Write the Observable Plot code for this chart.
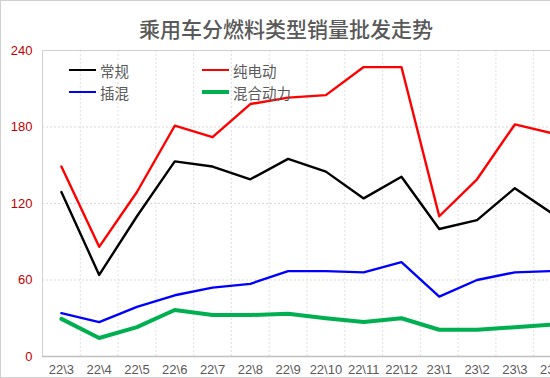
<!DOCTYPE html>
<html>
<head>
<meta charset="utf-8">
<script src="https://cdn.jsdelivr.net/npm/d3@7"></script>
<script src="https://cdn.jsdelivr.net/npm/@observablehq/plot@0.6"></script>
<style>
  html, body { margin: 0; padding: 0; background: #fff; overflow: hidden; }
  #wrap { position: relative; width: 600px; height: 376px; border: 1px solid #d0d0d0; overflow: hidden; background:#fff; }
  #title { position: absolute; left: 0; top: 13px; width: 570px; text-align: center;
    font-family: "Noto Sans CJK SC", sans-serif; font-size: 21px; font-weight: 500; color: #595959; line-height: 28px; }
  #legend { position: absolute; left: 0; top: 0; font-family: "Noto Sans CJK SC", sans-serif; font-size: 14.5px; color: #595959; }
  .item { position: absolute; display: flex; align-items: center; white-space: nowrap; height: 20px; }
  .swatch { display: inline-block; width: 27px; margin-right: 4px; }
  svg { position: absolute; left: 0; top: 0; }
</style>
</head>
<body>
<div id="wrap">
  <div id="chart"></div>
  <div id="title"></div>
  <div id="legend"></div>
</div>
<script>
const titleText = "乘用车分燃料类型销量批发走势";
const months = ["22\\3","22\\4","22\\5","22\\6","22\\7","22\\8","22\\9","22\\10","22\\11","22\\12","23\\1","23\\2","23\\3","23\\4"];
const seriesNames = ["常规", "纯电动", "插混", "混合动力"];
const conventional = [129, 64, 110, 153, 149, 139, 155, 145, 124, 141, 100, 107, 132, 112];
const bev = [149, 86, 129, 181, 172, 198, 203, 205, 227, 227, 110, 139, 182, 175];
const phev = [34, 27, 39, 48, 54, 57, 67, 67, 66, 74, 47, 60, 66, 67];
const hev = [29.5, 14.5, 23, 36.5, 32.5, 32.5, 33.5, 30, 27, 30, 21, 21, 23, 25];
const yTicks = [0, 60, 120, 180, 240];

const values = [conventional, bev, phev, hev];
const styles = [
  {color: "#000000", width: 2.4},
  {color: "#ff0000", width: 2.4},
  {color: "#0000ff", width: 2.4},
  {color: "#00b050", width: 4}
];

const rows = seriesNames.map((s, k) => values[k].map((v, i) => ({i, value: v, series: s})));

const chart = Plot.plot({
  width: 580, height: 376,
  marginLeft: 41, marginRight: 10, marginTop: 49, marginBottom: 21,
  style: {background: "transparent", fontFamily: "'Liberation Sans', 'Noto Sans CJK SC', sans-serif"},
  x: {type: "linear", domain: [-0.5, months.length - 0.5], axis: null, label: null},
  y: {domain: [0, 240], axis: null, label: null},
  marks: [
    Plot.ruleY(yTicks.slice(1, -1), {stroke: "#d9d9d9", strokeDasharray: "2,2"}),
    Plot.ruleX(d3.range(months.length - 1).map(i => i + 0.5), {stroke: "#e0e0e0", strokeDasharray: "2,2"}),
    Plot.frame({stroke: "#d0d0d0"}),
    Plot.ruleY([0], {stroke: "#bfbfbf", strokeWidth: 1.5}),
    Plot.axisY({ticks: yTicks, tickSize: 0, tickPadding: 10, color: "#c00000", fontSize: 13, label: null}),
    Plot.axisX({ticks: d3.range(months.length), tickFormat: i => months[i], tickSize: 0, tickPadding: 8, color: "#595959", fontSize: 13, label: null}),
    ...rows.map((r, k) => Plot.line(r, {x: "i", y: "value", stroke: styles[k].color, strokeWidth: styles[k].width, strokeLinejoin: "round"}))
  ]
});
document.getElementById("chart").appendChild(chart);
document.getElementById("title").textContent = titleText;

const legendPos = [[68, 59], [201, 59], [68, 81], [201, 81]];
const legend = document.getElementById("legend");
seriesNames.forEach((s, k) => {
  const it = document.createElement("div");
  it.className = "item";
  it.style.left = legendPos[k][0] + "px";
  it.style.top = legendPos[k][1] + "px";
  const sw = document.createElement("span");
  sw.className = "swatch";
  sw.style.height = styles[k].width + "px";
  sw.style.background = styles[k].color;
  it.appendChild(sw);
  const t = document.createElement("span");
  t.textContent = s;
  it.appendChild(t);
  legend.appendChild(it);
});
</script>
</body>
</html>
